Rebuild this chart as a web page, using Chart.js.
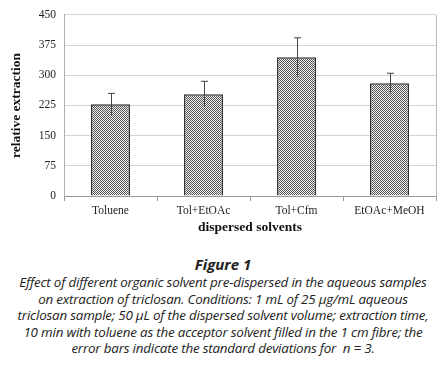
<!DOCTYPE html>
<html>
<head>
<meta charset="utf-8">
<script src="https://cdn.jsdelivr.net/npm/chart.js@4"></script>
<style>
  body { margin: 0; background: #fff; width: 446px; height: 373px; overflow: hidden; position: relative; }
  #wrap { position: absolute; left: 0; top: 0; width: 446px; height: 240px; }
  #caption { position: absolute; left: 0; top: 255px; width: 446px; text-align: center;
    font-family: "Open Sans", "Noto Sans", sans-serif; font-style: italic; color: #222;
    font-size: 13.4px; line-height: 16.6px; letter-spacing: -0.2px; white-space: nowrap; }
  #caption .fig { font-weight: bold; font-size: 15px; line-height: 19px; letter-spacing: 0; }
</style>
</head>
<body>
<div id="wrap"><canvas id="chart"></canvas></div>
<div id="caption">
  <div class="fig">Figure 1</div>
  Effect of different organic solvent pre-dispersed in the aqueous samples<br>
  on extraction of triclosan. Conditions: 1 mL of 25 µg/mL aqueous<br>
  triclosan sample; 50 µL of the dispersed solvent volume; extraction time,<br>
  10 min with toluene as the acceptor solvent filled in the 1 cm fibre; the<br>
  error bars indicate the standard deviations for &nbsp;n = 3.
</div>
<script>
// data
const solvents = ['Toluene', 'Tol+EtOAc', 'Tol+Cfm', 'EtOAc+MeOH'];
const extraction = [228, 253, 345, 280];
const stdDev = [27, 32, 48, 25];
const yTicks = [0, 75, 150, 225, 300, 375, 450];

// checkered fill like the printed hatch
function checkerPattern() {
    const c = document.createElement('canvas');
    c.width = 2; c.height = 2;
    const g = c.getContext('2d');
    g.fillStyle = '#f2f2f2';
    g.fillRect(0, 0, 2, 2);
    g.fillStyle = '#555';
    g.fillRect(0, 0, 1, 1);
    g.fillRect(1, 1, 1, 1);
    return g.createPattern(c, 'repeat');
}

// error bars with a cap on top only
const errorBars = {
    id: 'errorBars',
    afterDatasetsDraw(chart) {
        const ctx = chart.ctx;
        const xs = chart.scales.x, ys = chart.scales.y;
        ctx.save();
        ctx.strokeStyle = '#444';
        ctx.lineWidth = 1;
        extraction.forEach((v, i) => {
            const x = Math.round(xs.getPixelForValue(i)) + 0.5;
            const top = ys.getPixelForValue(v + stdDev[i]);
            const bot = ys.getPixelForValue(v - stdDev[i]);
            ctx.beginPath();
            ctx.moveTo(x, bot);
            ctx.lineTo(x, top);
            ctx.moveTo(x - 3.5, top);
            ctx.lineTo(x + 3.5, top);
            ctx.stroke();
        });
        ctx.restore();
    }
};

// thin grey line closing the plot area on the right
const frame = {
    id: 'frame',
    beforeDatasetsDraw(chart) {
        const a = chart.chartArea, ctx = chart.ctx;
        ctx.save();
        ctx.strokeStyle = '#b8b8b8';
        ctx.lineWidth = 1;
        ctx.beginPath();
        ctx.moveTo(Math.round(a.right) + 0.5, a.top);
        ctx.lineTo(Math.round(a.right) + 0.5, a.bottom);
        ctx.stroke();
        ctx.restore();
    }
};

const serif = '"Liberation Serif", "Times New Roman", serif';

new Chart(document.getElementById('chart').getContext('2d'), {
    type: 'bar',
    data: {
        labels: solvents,
        datasets: [{
            data: extraction,
            backgroundColor: checkerPattern(),
            borderColor: '#333',
            borderWidth: 1.5,
            categoryPercentage: 1,
            barPercentage: 0.42
        }]
    },
    options: {
        responsive: true,
        maintainAspectRatio: false,
        animation: false,
        layout: { padding: { left: 4, right: 10, top: 12, bottom: 0 } },
        plugins: { legend: { display: false }, tooltip: { enabled: false } },
        scales: {
            x: {
                offset: true,
                grid: { drawOnChartArea: false, color: '#999', tickLength: 5, offset: true },
                border: { color: '#999' },
                ticks: { color: '#222', font: { family: serif, size: 11.5 }, padding: 3 },
                title: { display: true, text: 'dispersed solvents', color: '#111',
                    font: { family: serif, size: 13.5, weight: 'bold' }, padding: { top: 0 } },
                afterFit(s) { s.height = 44; }
            },
            y: {
                min: 0, max: 450,
                afterBuildTicks(s) { s.ticks = yTicks.map(v => ({ value: v })); },
                grid: { color: '#d4d4d4', drawTicks: false },
                border: { color: '#b0b0b0' },
                ticks: { color: '#222', font: { family: serif, size: 11.5 }, padding: 8 },
                title: { display: true, text: 'relative extraction', color: '#111',
                    font: { family: serif, size: 13.5, weight: 'bold' }, padding: { bottom: 4 } },
                afterFit(s) { s.width = 60; }
            }
        }
    },
    plugins: [frame, errorBars]
});
</script>
</body>
</html>
